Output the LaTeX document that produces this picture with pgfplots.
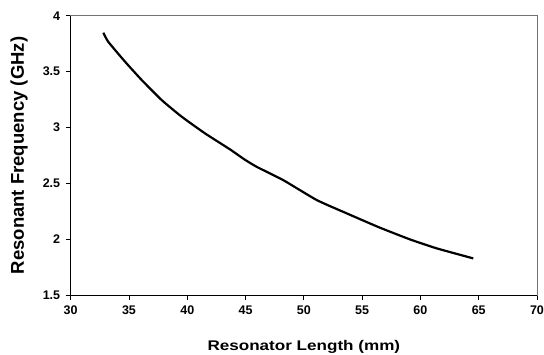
\documentclass[border=0pt]{standalone}
\usepackage{fontspec}
\setmainfont{Liberation Sans}
\usepackage{pgfplots}
\pgfplotsset{compat=1.18}
\begin{document}
\begin{tikzpicture}
\begin{axis}[
  at={(0,0)}, anchor=south west,
  scale only axis,
  width=466.3pt, height=279.6pt,
  xmin=30, xmax=70, ymin=1.5, ymax=4,
  xtick={30,35,...,70},
  ytick={1.5,2,2.5,3,3.5,4},
  yticklabels={1.5,2,2.5,3,3.5,4},
  xticklabels={30,35,40,45,50,55,60,65,70},
  axis line style={draw=gray!90!black, line width=0.6pt},
  tick align=outside,
  xtick pos=lower, ytick pos=left,
  major tick length=5pt,
  tick style={black, line width=0.8pt},
  /pgf/number format/assume math mode=true,
  every tick label/.append style={font=\fontsize{12.5}{14}\selectfont\bfseries},
  xticklabel style={yshift=-2pt},
  yticklabel style={xshift=-2pt},
  xlabel={Resonator Length (mm)},
  ylabel={Resonant Frequency (GHz)},
  xlabel style={font=\fontsize{14}{16}\selectfont\bfseries, xscale=1.22, at={(axis description cs:0.5,-0.198)}, anchor=base},
  ylabel style={font=\fontsize{18.5}{20}\selectfont\bfseries, at={(axis description cs:-0.1109,0.5)}, anchor=center},
  clip=false,
]
\addplot[black, line width=2.2pt, line join=round, smooth, tension=0.3] coordinates {
(32.80,3.848) (33.22,3.767) (34.66,3.589) (36.09,3.425) (37.80,3.246)
(39.52,3.097) (41.52,2.948) (43.66,2.805) (44.89,2.716) (45.95,2.649)
(48.23,2.530) (51.10,2.352) (53.67,2.233) (56.47,2.107) (59.10,2.000)
(61.39,1.920) (64.53,1.830)
};
\draw[black, line width=0.9pt] (rel axis cs:0,1) -- (rel axis cs:0,0) -- (rel axis cs:1,0);
\end{axis}
\pgfresetboundingbox
\path (-70.7pt,-58.7pt) rectangle (473.3pt,295.3pt);
\end{tikzpicture}
\end{document}
